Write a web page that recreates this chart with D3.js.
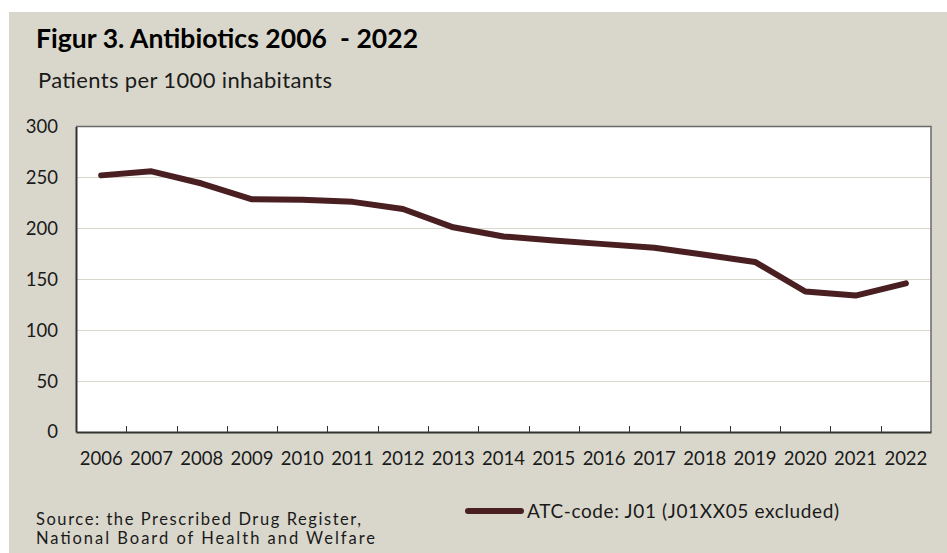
<!DOCTYPE html>
<html>
<head>
<meta charset="utf-8">
<script src="https://cdn.jsdelivr.net/npm/d3@7/dist/d3.min.js"></script>
<style>
  html, body { margin: 0; padding: 0; background: #ffffff; }
  svg { display: block; }
  text { font-family: Lato, "Noto Sans", sans-serif; }
</style>
</head>
<body>
<svg id="chart" width="947" height="553"></svg>
<script>
const years = ["2006","2007","2008","2009","2010","2011","2012","2013","2014","2015","2016","2017","2018","2019","2020","2021","2022"];
const patients = [252, 256, 244, 228.5, 228, 226, 219, 201, 192, 188, 184.5, 181, 174, 167, 138, 134, 146];
const yTicks = [0, 50, 100, 150, 200, 250, 300];
const titleText = "Figur 3. Antibiotics 2006  - 2022";
const subtitleText = "Patients per 1000 inhabitants";
const legendLabel = "ATC-code: J01 (J01XX05 excluded)";
const sourceLines = ["Source: the Prescribed Drug Register,", "National Board of Health and Welfare"];

const svg = d3.select("#chart");
const W = 947, H = 553;
const panelColor = "#d9d7cb";
const lineColor = "#4a1f22";

svg.append("rect").attr("x", 9).attr("y", 12).attr("width", W - 9).attr("height", H - 12).attr("fill", panelColor);

const plot = { left: 76, top: 126.5, right: 931, bottom: 432 };

const x = d3.scaleBand().domain(years).range([plot.left, plot.right]).padding(0);
const y = d3.scaleLinear().domain([0, 300]).range([plot.bottom, plot.top]);

svg.append("rect")
  .attr("x", plot.left).attr("y", plot.top)
  .attr("width", plot.right - plot.left).attr("height", plot.bottom - plot.top)
  .attr("fill", "#ffffff");

// gridlines
svg.append("g").selectAll("line").data(yTicks.filter(d => d > 0 && d < 300)).join("line")
  .attr("x1", plot.left).attr("x2", plot.right)
  .attr("y1", d => Math.round(y(d)) + 0.5).attr("y2", d => Math.round(y(d)) + 0.5)
  .attr("stroke", "#d9d7cb").attr("stroke-width", 1.2);

// frame top/right
svg.append("path")
  .attr("d", `M${plot.left},${plot.top}H${plot.right}V${plot.bottom}`)
  .attr("fill", "none").attr("stroke", "#6a6a6a").attr("stroke-width", 1.5);

// y axis
const yAxis = d3.axisLeft(y).tickValues(yTicks).tickSize(0).tickPadding(18);
const gy = svg.append("g").attr("transform", `translate(${plot.left},0)`).call(yAxis);
gy.select(".domain").attr("stroke", "#333333").attr("stroke-width", 2);
gy.selectAll("text").attr("font-size", 18.5).attr("fill", "#1a1a1a")
  .attr("font-family", "Lato, sans-serif");

// x axis (ticks at band boundaries)
const xAxis = d3.axisBottom(x).tickSize(0).tickPadding(20);
const gx = svg.append("g").attr("transform", `translate(0,${plot.bottom})`).call(xAxis);
gx.select(".domain").attr("stroke", "#333333").attr("stroke-width", 2);
gx.selectAll("text").attr("font-size", 18.5).attr("fill", "#1a1a1a")
  .attr("font-family", "Lato, sans-serif");
svg.append("g").selectAll("line").data(years.slice(1)).join("line")
  .attr("x1", d => Math.round(x(d)) + 0.5).attr("x2", d => Math.round(x(d)) + 0.5)
  .attr("y1", plot.bottom).attr("y2", plot.bottom - 6)
  .attr("stroke", "#333333").attr("stroke-width", 1);

// line
const line = d3.line()
  .x((d, i) => x(years[i]) + x.bandwidth() / 2)
  .y(d => y(d));
svg.append("path").datum(patients)
  .attr("d", line)
  .attr("fill", "none").attr("stroke", lineColor).attr("stroke-width", 6)
  .attr("stroke-linecap", "round").attr("stroke-linejoin", "round");

// title
svg.append("text").attr("x", 36).attr("y", 48).text(titleText)
  .attr("font-size", 26.5).attr("font-weight", "bold").attr("fill", "#000")
  .attr("textLength", 382).attr("lengthAdjust", "spacing").style("white-space", "pre");
svg.append("text").attr("x", 38).attr("y", 88).text(subtitleText)
  .attr("font-size", 22).attr("fill", "#1a1a1a")
  .attr("textLength", 294).attr("lengthAdjust", "spacing");

// legend
svg.append("line").attr("x1", 468).attr("x2", 521).attr("y1", 511).attr("y2", 511)
  .attr("stroke", lineColor).attr("stroke-width", 6).attr("stroke-linecap", "round");
svg.append("text").attr("x", 527).attr("y", 518).text(legendLabel)
  .attr("font-size", 19).attr("fill", "#1a1a1a")
  .attr("textLength", 312).attr("lengthAdjust", "spacing");

// source
const sourceWidths = [325, 339];
svg.append("g").selectAll("text").data(sourceLines).join("text")
  .attr("x", 36).attr("y", (d, i) => 524.5 + i * 19.5)
  .text(d => d).attr("font-size", 16.5).attr("fill", "#1a1a1a")
  .attr("textLength", (d, i) => sourceWidths[i]).attr("lengthAdjust", "spacing");
</script>
</body>
</html>
